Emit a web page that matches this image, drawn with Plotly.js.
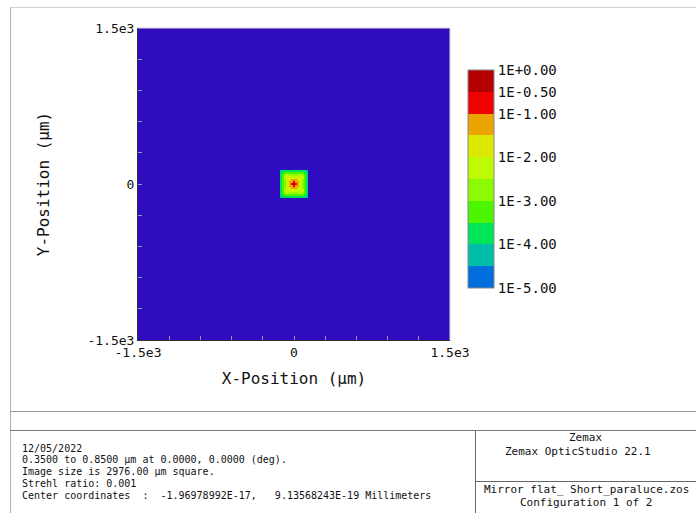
<!DOCTYPE html>
<html>
<head>
<meta charset="utf-8">
<script src="https://cdn.plot.ly/plotly-3.0.1.min.js"></script>
<style>html,body{margin:0;padding:0;background:#fff}#chart{width:696px;height:513px}</style>
</head>
<body>
<div id="chart"></div>
<script>
// ---- data ----
// cell centres of the PSF spot (µm)
var spotX = [-126,-108,-90,-72,-54,-36,-18,0,18,36,54,72,90,108,126];
var spotY = [-126,-108,-90,-72,-54,-36,-18,0,18,36,54,72,90,108,126];
// log10 of relative intensity (rows bottom -> top)
var logIntensity = [
  [-4.4,-4.0,-3.8,-3.6,-3.6,-3.7,-3.8,-3.7,-3.8,-3.7,-3.6,-3.6,-3.8,-4.0,-4.4],
  [-4.0,-3.6,-3.3,-3.1,-3.2,-3.3,-3.4,-3.3,-3.4,-3.3,-3.2,-3.1,-3.3,-3.6,-4.0],
  [-3.8,-3.3,-2.6,-2.4,-2.5,-2.6,-2.7,-2.6,-2.7,-2.6,-2.5,-2.4,-2.6,-3.3,-3.8],
  [-3.6,-3.1,-2.4,-2.1,-2.2,-2.3,-2.4,-2.1,-2.4,-2.3,-2.2,-2.1,-2.4,-3.1,-3.6],
  [-3.6,-3.2,-2.5,-2.2,-1.9,-2.0,-2.1,-1.8,-2.1,-2.0,-1.9,-2.2,-2.5,-3.2,-3.6],
  [-3.7,-3.3,-2.6,-2.3,-2.0,-1.6,-1.4,-1.3,-1.4,-1.6,-2.0,-2.3,-2.6,-3.3,-3.7],
  [-3.8,-3.4,-2.7,-2.4,-2.1,-1.4,-1.1,-0.7,-1.1,-1.4,-2.1,-2.4,-2.7,-3.4,-3.8],
  [-3.7,-3.3,-2.6,-2.1,-1.8,-1.3,-0.7,-0.2,-0.7,-1.3,-1.8,-2.1,-2.6,-3.3,-3.7],
  [-3.8,-3.4,-2.7,-2.4,-2.1,-1.4,-1.1,-0.7,-1.1,-1.4,-2.1,-2.4,-2.7,-3.4,-3.8],
  [-3.7,-3.3,-2.6,-2.3,-2.0,-1.6,-1.4,-1.3,-1.4,-1.6,-2.0,-2.3,-2.6,-3.3,-3.7],
  [-3.6,-3.2,-2.5,-2.2,-1.9,-2.0,-2.1,-1.8,-2.1,-2.0,-1.9,-2.2,-2.5,-3.2,-3.6],
  [-3.6,-3.1,-2.4,-2.1,-2.2,-2.3,-2.4,-2.1,-2.4,-2.3,-2.2,-2.1,-2.4,-3.1,-3.6],
  [-3.8,-3.3,-2.6,-2.4,-2.5,-2.6,-2.7,-2.6,-2.7,-2.6,-2.5,-2.4,-2.6,-3.3,-3.8],
  [-4.0,-3.6,-3.3,-3.1,-3.2,-3.3,-3.4,-3.3,-3.4,-3.3,-3.2,-3.1,-3.3,-3.6,-4.0],
  [-4.4,-4.0,-3.8,-3.6,-3.6,-3.7,-3.8,-3.7,-3.8,-3.7,-3.6,-3.6,-3.8,-4.0,-4.4]
];
var axisTickVals = [-1500, 0, 1500];
var axisTickText = ['-1.5e3', '0', '1.5e3'];
var cbTickVals = [0, -0.5, -1, -2, -3, -4, -5];
var cbTickText = ['1E+0.00', '1E-0.50', '1E-1.00', '1E-2.00', '1E-3.00', '1E-4.00', '1E-5.00'];
// band colours from 1E-5 (bottom) to 1E+0 (top)
var bandColors = ['#006EDC','#00BEAA','#00E45A','#4CF600','#8CFA00','#BEFA00','#DCE800','#ECA400','#F00000','#B40000'];
var infoLines = [
  '12/05/2022',
  '0.3500 to 0.8500 µm at 0.0000, 0.0000 (deg).',
  'Image size is 2976.00 µm square.',
  'Strehl ratio: 0.001',
  'Center coordinates  :  -1.96978992E-17,   9.13568243E-19 Millimeters'
];
var rightTop = ['Zemax', 'Zemax OpticStudio 22.1'];
var rightBottom = ['Mirror flat_ Short_paraluce.zos', 'Configuration 1 of 2'];

// ---- build ----
var W = 696, H = 513, L = 138, R = 450, T = 28, B = 340;
function px(x) { return (x - L) / (R - L); }
function py(y) { return (B - y) / (B - T); }

var cs = [];
for (var i = 0; i < bandColors.length; i++) {
  cs.push([i / bandColors.length, bandColors[i]]);
  cs.push([(i + 1) / bandColors.length, bandColors[i]]);
}

var mono = 'DejaVu Sans Mono, monospace';

var trace = {
  type: 'heatmap',
  x: spotX, y: spotY, z: logIntensity,
  zmin: -5, zmax: 0, zsmooth: false,
  colorscale: cs,
  hoverinfo: 'skip',
  colorbar: {
    x: px(468), xanchor: 'left', y: py(179), yanchor: 'middle',
    thickness: 26, thicknessmode: 'pixels',
    len: 218, lenmode: 'pixels',
    xpad: 0, ypad: 0,
    outlinecolor: '#888', outlinewidth: 1,
    tickvals: cbTickVals, ticktext: cbTickText,
    ticks: '', ticklabelposition: 'outside',
    tickfont: {family: mono, size: 14, color: '#111'}
  }
};

var shapes = [];
function line(x0, y0, x1, y1, c, w) {
  shapes.push({type: 'line', xref: 'paper', yref: 'paper',
    x0: px(x0), y0: py(y0), x1: px(x1), y1: py(y1),
    line: {color: c, width: w || 1}});
}
line(10, 7.5, 700, 7.5, '#d0d0d0');
line(10.5, 7.5, 10.5, 520, '#b0b0b0');
line(10, 411.5, 700, 411.5, '#999');
line(10, 430.5, 700, 430.5, '#777');
line(475.5, 430.5, 475.5, 520, '#666');
line(475, 481.5, 700, 481.5, '#666');
// light top/right plot borders
line(L, T, R, T, '#d8d8d8');
line(R, T, R, B, '#d8d8d8');

var ann = [];
for (var k = 0; k < infoLines.length; k++) {
  ann.push({xref: 'paper', yref: 'paper', x: px(20), y: py(448 + k * 11.75),
    xanchor: 'left', yanchor: 'middle', showarrow: false, text: infoLines[k],
    font: {family: mono, size: 10, color: '#111'}});
}
ann.push({xref: 'paper', yref: 'paper', x: px(585), y: py(437), xanchor: 'center', yanchor: 'middle',
  showarrow: false, text: rightTop[0], font: {family: mono, size: 11, color: '#111'}});
ann.push({xref: 'paper', yref: 'paper', x: px(578), y: py(451), xanchor: 'center', yanchor: 'middle',
  showarrow: false, text: rightTop[1], font: {family: mono, size: 11, color: '#111'}});
ann.push({xref: 'paper', yref: 'paper', x: px(586), y: py(489), xanchor: 'center', yanchor: 'middle',
  showarrow: false, text: rightBottom[0], font: {family: mono, size: 11, color: '#111'}});
ann.push({xref: 'paper', yref: 'paper', x: px(586), y: py(502), xanchor: 'center', yanchor: 'middle',
  showarrow: false, text: rightBottom[1], font: {family: mono, size: 11, color: '#111'}});

var axisCommon = {
  range: [-1500, 1500], tickvals: axisTickVals, ticktext: axisTickText,
  showgrid: false, zeroline: false, showline: true, linecolor: '#333', linewidth: 1,
  ticks: 'inside', ticklen: 4, tickcolor: '#9a90d8',
  minor: {ticks: 'inside', dtick: 300, tick0: -1500, ticklen: 4, tickcolor: '#9a90d8', showgrid: false},
  tickfont: {family: mono, size: 13, color: '#111'},
  fixedrange: true, automargin: false
};

var layout = {
  width: W, height: H,
  margin: {l: L, r: W - R, t: T, b: H - B, pad: 0},
  paper_bgcolor: '#fff', plot_bgcolor: '#300CC0',
  showlegend: false,
  xaxis: Object.assign({}, axisCommon, {
    title: {text: 'X-Position (µm)', font: {family: mono, size: 16, color: '#111'}, standoff: 14}
  }),
  yaxis: Object.assign({}, axisCommon, {
    title: {text: 'Y-Position (µm)', font: {family: mono, size: 16, color: '#111'}, standoff: 33}
  }),
  shapes: shapes,
  annotations: ann
};

Plotly.newPlot('chart', [trace], layout, {displayModeBar: false, staticPlot: true});
</script>
</body>
</html>
